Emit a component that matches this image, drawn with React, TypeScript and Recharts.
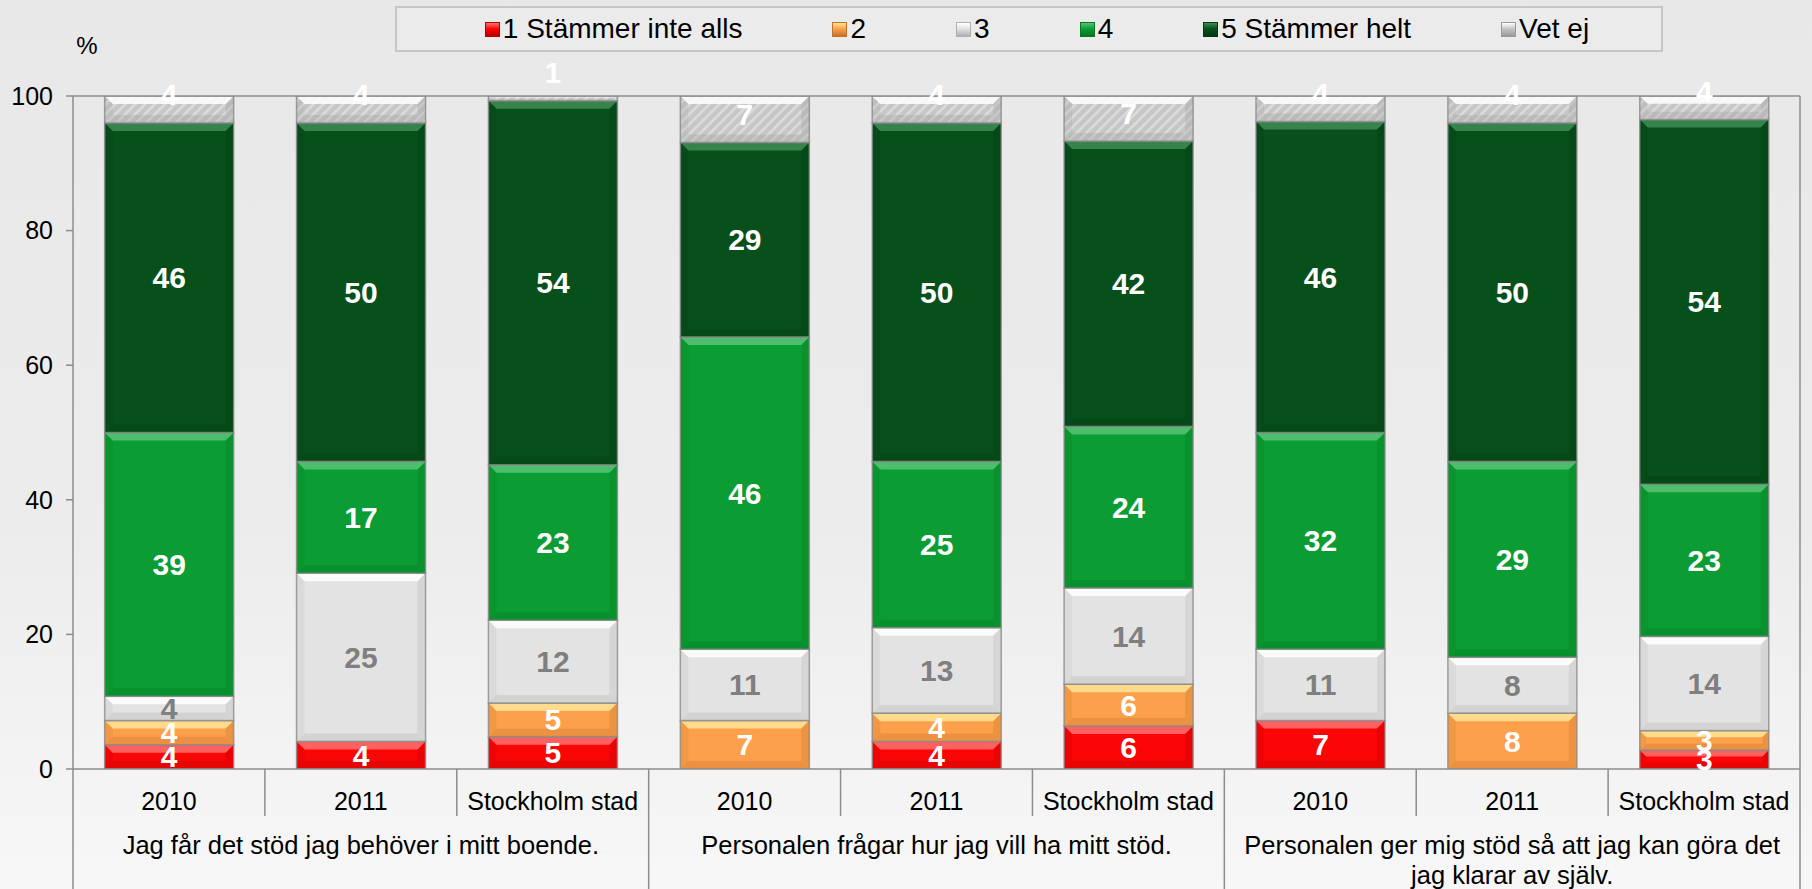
import React from 'react';
import { BarChart, Bar, XAxis, YAxis, LabelList, ReferenceLine } from 'recharts';

// categories and group titles
const CATS = ['2010', '2011', 'Stockholm stad', '2010', '2011', 'Stockholm stad', '2010', '2011', 'Stockholm stad'];
const GROUPS = [
  ['Jag får det stöd jag behöver i mitt boende.'],
  ['Personalen frågar hur jag vill ha mitt stöd.'],
  ['Personalen ger mig stöd så att jag kan göra det', 'jag klarar av själv.'],
];

// percentages (bottom to top)
const S1 = [3.6, 4.1, 4.8, 0, 4.1, 6.4, 7.2, 0, 2.8];
const S2 = [3.6, 0, 5.0, 7.2, 4.2, 6.2, 0, 8.3, 2.9];
const S3 = [3.6, 25.0, 12.3, 10.6, 12.7, 14.3, 10.6, 8.3, 14.0];
const S4 = [39.2, 16.6, 23.1, 46.4, 24.7, 24.0, 32.2, 29.1, 22.6];
const S5 = [46.0, 50.3, 54.1, 28.9, 50.3, 42.4, 46.2, 50.3, 54.2];
const VET = [4.0, 4.0, 0.7, 6.9, 4.0, 6.7, 3.8, 4.0, 3.5];

const Y_TICKS = [0, 20, 40, 60, 80, 100];

const SERIES = [
  { key: 's1', name: '1 Stämmer inte alls', vals: S1, base: '#fb0606', light: '#ff7272', dark: '#b80000', text: '#ffffff' },
  { key: 's2', name: '2', vals: S2, base: '#fda04c', light: '#ffe596', dark: '#c27228', text: '#ffffff' },
  { key: 's3', name: '3', vals: S3, base: '#e3e3e3', light: '#ffffff', dark: '#b0b0b0', text: '#7f7f7f' },
  { key: 's4', name: '4', vals: S4, base: '#0b9d33', light: '#58c477', dark: '#067524', text: '#ffffff' },
  { key: 's5', name: '5 Stämmer helt', vals: S5, base: '#07501b', light: '#3f8c55', dark: '#033a11', text: '#ffffff' },
  { key: 's6', name: 'Vet ej', vals: VET, base: 'url(#hatch)', light: '#ffffff', dark: '#9a9a9a', text: '#ffffff', swatch: '#c4c4c4' },
];

const data = CATS.map((c, i) => {
  const row: any = { id: i, cat: c };
  SERIES.forEach(s => { row[s.key] = s.vals[i]; });
  return row;
});

const W = 1812, H = 889;
const Y_W = 73, RIGHT = 12, TOP = 96, X_H = 120;
const PLOT_W = W - Y_W - RIGHT;
const PLOT_B = H - X_H;
const BW = PLOT_W / CATS.length;
const FONT = "'Liberation Sans', Arial, sans-serif";
const LINE = '#8c8c8c';

const makeShape = (s: any) => (p: any) => {
  const { x, y, width: w, height: h } = p;
  if (!h || h <= 0.3) return <g />;
  const b = Math.min(8, h / 3, w / 6);
  return (
    <g>
      <rect x={x} y={y} width={w} height={h} fill={s.base} />
      <polygon points={`${x},${y} ${x + w},${y} ${x + w - b},${y + b} ${x + b},${y + b}`} fill={s.light} opacity={0.85} />
      <polygon points={`${x},${y + h} ${x + w},${y + h} ${x + w - b},${y + h - b} ${x + b},${y + h - b}`} fill={s.dark} opacity={0.3} />
      <polygon points={`${x},${y} ${x + b},${y + b} ${x + b},${y + h - b} ${x},${y + h}`} fill={s.dark} opacity={0.18} />
      <polygon points={`${x + w},${y} ${x + w - b},${y + b} ${x + w - b},${y + h - b} ${x + w},${y + h}`} fill={s.dark} opacity={0.28} />
      <rect x={x} y={y} width={w} height={h} fill="none" stroke="#8a8a8a" strokeOpacity={0.8} strokeWidth={1.5} />
    </g>
  );
};

const makeLabel = (s: any) => (p: any) => {
  const vb = p.viewBox ?? p;
  const { x, y, width: w, height: h } = vb;
  if (!p.value) return null;
  const cy = s.key === 's6' ? y + h - 28 : y + h / 2;
  return (
    <text x={x + w / 2} y={cy} textAnchor="middle" dominantBaseline="central"
      fontFamily={FONT} fontSize={30} fontWeight="bold" fill={s.text}>
      {Math.round(p.value)}
    </text>
  );
};

const CatTick = (props: any) => {
  const { x, index } = props;
  const left = x - BW / 2, right = x + BW / 2;
  const major = index % 3 === 0;
  const g = GROUPS[Math.floor(index / 3)];
  return (
    <g>
      <line x1={left} x2={left} y1={PLOT_B} y2={major ? H : PLOT_B + 47} stroke={LINE} strokeWidth={1.5} />
      {index === CATS.length - 1 && <line x1={right} x2={right} y1={TOP} y2={H} stroke={LINE} strokeWidth={1.5} />}
      <text x={x} y={PLOT_B + 41} textAnchor="middle" fontFamily={FONT} fontSize={25} fill="#000">{CATS[index]}</text>
      {index % 3 === 1 && g.map((t, k) => (
        <text key={k} x={x} y={PLOT_B + 85 + k * 30} textAnchor="middle" fontFamily={FONT} fontSize={25.5} fill="#000">{t}</text>
      ))}
    </g>
  );
};

function LegendBox() {
  return (
    <div style={{
      position: 'absolute', left: 395, top: 6, width: 1268, height: 46, boxSizing: 'border-box',
      border: '2px solid #c6c6c6', background: '#ebebeb', display: 'flex', alignItems: 'center',
      justifyContent: 'center', gap: 90, paddingLeft: 16, fontFamily: FONT, fontSize: 28, color: '#000',
    }}>
      {SERIES.map(s => (
        <div key={s.key} style={{ display: 'flex', alignItems: 'center', lineHeight: 1 }}>
          <span style={{
            width: 15, height: 15, marginRight: 3, display: 'inline-block', boxSizing: 'border-box',
            background: `linear-gradient(${s.light}, ${s.swatch ?? s.base} 45%, ${s.dark})`,
            border: `1px solid ${s.dark}`,
          }} />
          <span>{s.name}</span>
        </div>
      ))}
    </div>
  );
}

export default function App() {
  return (
    <div style={{
      position: 'absolute', left: 0, top: 0, width: W, height: H, overflow: 'hidden',
      background: 'linear-gradient(#e8e8e8, #ececec 60%, #f7f7f7)',
    }}>
      <svg width={0} height={0} style={{ position: 'absolute' }}>
        <defs>
          <pattern id="hatch" width={7} height={7} patternUnits="userSpaceOnUse" patternTransform="rotate(45)">
            <rect width={7} height={7} fill="#c6c6c6" />
            <rect width={2.5} height={7} fill="#dcdcdc" />
          </pattern>
        </defs>
      </svg>
      <LegendBox />
      <div style={{ position: 'absolute', left: 87, top: 46, transform: 'translate(-50%, -50%)', fontFamily: FONT, fontSize: 24 }}>%</div>
      <BarChart width={W} height={H} data={data} margin={{ top: TOP, right: RIGHT, bottom: 0, left: 0 }} barCategoryGap="16.5%">
        <XAxis dataKey="id" height={X_H} interval={0} tickLine={false} axisLine={{ stroke: LINE, strokeWidth: 1.5 }} tick={<CatTick />} />
        <YAxis width={Y_W} domain={[0, 100]} allowDataOverflow ticks={Y_TICKS} tickSize={7} tickMargin={13}
          axisLine={{ stroke: LINE, strokeWidth: 1.5 }} tickLine={{ stroke: LINE, strokeWidth: 1.5 }}
          tick={{ fill: '#000', fontSize: 25, fontFamily: FONT }} />
        <ReferenceLine y={100} stroke={LINE} strokeWidth={1.5} />
        {SERIES.map(s => (
          <Bar key={s.key} dataKey={s.key} name={s.name} stackId="a" isAnimationActive={false} shape={makeShape(s)}>
            <LabelList dataKey={s.key} content={makeLabel(s)} />
          </Bar>
        ))}
      </BarChart>
    </div>
  );
}
